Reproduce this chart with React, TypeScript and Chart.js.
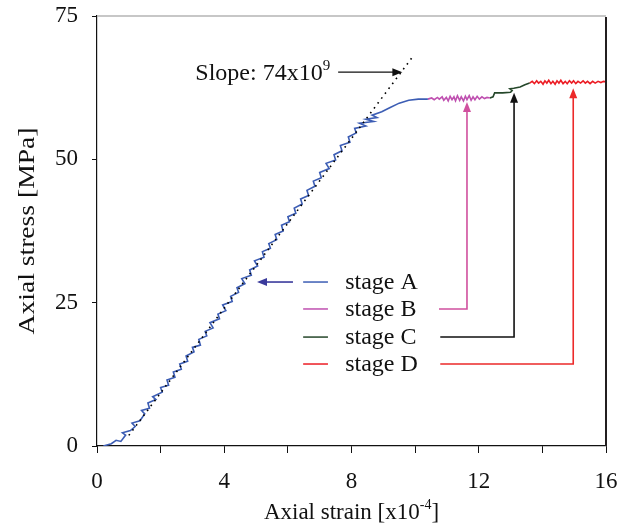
import React, { useEffect, useRef } from 'react';
import { Chart, registerables } from 'chart.js';
Chart.register(...registerables);

// ---- data ----
const xTickLabels = [0, 4, 8, 12, 16];
const yTickLabels = [0, 25, 50, 75];
const stageNames = ['stage A', 'stage B', 'stage C', 'stage D'];

const stageA: [number, number][] = [
  [0.2, 0], [0.45, 0.4], [0.6, 1.0], [0.75, 0.8], [0.9, 1.9], [0.8, 2.3], [1.05, 2.7], [1.2, 3.4],
  [1.1, 4.0], [1.35, 4.4], [1.5, 5.6], [1.4, 6.2], [1.65, 6.6], [1.6, 7.5], [1.85, 8.1], [1.75, 8.6],
  [2.05, 9.4], [2.0, 10.2], [2.25, 10.6], [2.2, 11.5], [2.45, 12.0], [2.4, 12.9], [2.65, 13.4], [2.6, 14.3],
  [2.85, 14.8], [2.8, 15.7], [3.05, 16.4], [3.0, 17.2], [3.25, 17.6], [3.2, 18.6], [3.45, 19.2], [3.4, 20.0],
  [3.65, 20.6], [3.55, 21.5], [3.85, 22.2], [3.8, 23.0], [4.05, 23.6], [3.95, 24.6], [4.25, 25.2], [4.2, 26.1],
  [4.45, 26.8], [4.4, 27.6], [4.65, 28.3], [4.55, 29.2], [4.85, 29.8], [4.8, 30.7], [5.05, 31.4], [4.95, 32.3],
  [5.25, 32.9], [5.2, 33.9], [5.45, 34.5], [5.4, 35.3], [5.65, 36.0], [5.6, 36.9], [5.85, 37.5], [5.8, 38.5],
  [6.05, 39.1], [6.0, 40.0], [6.25, 40.6], [6.2, 41.5], [6.45, 42.2], [6.4, 43.1], [6.65, 43.7], [6.6, 44.6],
  [6.85, 45.3], [6.8, 46.2], [7.05, 46.8], [7.0, 47.7], [7.3, 48.4], [7.2, 49.3], [7.5, 49.9], [7.45, 50.8],
  [7.7, 51.5], [7.65, 52.4], [7.95, 53.0], [7.9, 53.9], [8.15, 54.6], [8.1, 55.4], [8.45, 55.8], [8.25, 56.3],
  [8.7, 56.6], [8.45, 57.0], [8.8, 57.3], [8.65, 57.7], [8.95, 58.3], [9.2, 59.0], [9.5, 59.8], [9.8, 60.3],
  [10.1, 60.5], [10.4, 60.5],
];
const stageB: [number, number][] = [
  [10.4, 60.5], [10.52, 60.7], [10.6, 60.4], [10.7, 60.8], [10.76, 60.5], [10.85, 60.9], [10.9, 60.3],
  [10.98, 60.8], [11.04, 60.2], [11.1, 61.0], [11.16, 60.4], [11.22, 60.9], [11.27, 60.2], [11.33, 61.1],
  [11.4, 60.3], [11.45, 60.9], [11.52, 60.2], [11.58, 61.0], [11.63, 60.4], [11.7, 61.1], [11.76, 60.3],
  [11.82, 60.9], [11.88, 60.4], [11.95, 61.0], [12.02, 60.5], [12.1, 60.9], [12.18, 60.6], [12.26, 60.8],
  [12.35, 60.7],
];
const stageC: [number, number][] = [
  [12.35, 60.7], [12.45, 60.9], [12.5, 61.6], [12.75, 61.6], [13.0, 61.7], [13.05, 62.0], [12.98, 62.3],
  [13.1, 62.4], [13.3, 62.6], [13.45, 63.0], [13.6, 63.3],
];
const stageD: [number, number][] = [
  [13.6, 63.3], [13.68, 63.6], [13.75, 63.2], [13.82, 63.7], [13.88, 63.3], [13.95, 63.6], [14.02, 63.1],
  [14.08, 63.7], [14.14, 63.3], [14.2, 63.8], [14.27, 63.2], [14.33, 63.6], [14.4, 63.1], [14.46, 63.7],
  [14.52, 63.3], [14.58, 63.8], [14.65, 63.2], [14.72, 63.6], [14.78, 63.2], [14.85, 63.7], [14.92, 63.3],
  [14.98, 63.7], [15.05, 63.2], [15.12, 63.6], [15.2, 63.3], [15.28, 63.7], [15.35, 63.3], [15.42, 63.6],
  [15.5, 63.2], [15.58, 63.6], [15.66, 63.3], [15.75, 63.6], [15.84, 63.4], [15.92, 63.6], [16.0, 63.5],
];
const slopeE = 7.4; // MPa per 1e-4 strain (74 GPa)
const slopeX0 = 0.75;

// ---- styles ----
const FONT = '"Liberation Serif", "Times New Roman", serif';
const colors = ['#3c5db4', '#bf50b0', '#25472a', '#ec1c24'];
const connectorColors = ['#3a3a9c', '#d0509e', '#111111', '#ec2a2a'];

const toPts = (a: [number, number][]) => a.map(([x, y]) => ({ x, y }));

function arrowHead(ctx: CanvasRenderingContext2D, x: number, y: number, dx: number, dy: number, color: string) {
  const len = Math.hypot(dx, dy) || 1;
  const ux = dx / len, uy = dy / len;
  const L = 10, W = 4;
  ctx.fillStyle = color;
  ctx.beginPath();
  ctx.moveTo(x, y);
  ctx.lineTo(x - ux * L - uy * W, y - uy * L + ux * W);
  ctx.lineTo(x - ux * L + uy * W, y - uy * L - ux * W);
  ctx.closePath();
  ctx.fill();
}

function richText(ctx: CanvasRenderingContext2D, parts: { t: string; sup?: boolean }[], x: number, y: number, size: number, align: 'left' | 'center' | 'right') {
  const big = `${size}px ${FONT}`;
  const small = `${Math.round(size * 0.62)}px ${FONT}`;
  let total = 0;
  const widths = parts.map(p => { ctx.font = p.sup ? small : big; const w = ctx.measureText(p.t).width; total += w; return w; });
  let cx = align === 'left' ? x : align === 'center' ? x - total / 2 : x - total;
  ctx.textAlign = 'left';
  ctx.textBaseline = 'alphabetic';
  parts.forEach((p, i) => {
    ctx.font = p.sup ? small : big;
    ctx.fillText(p.t, cx, p.sup ? y - size * 0.42 : y);
    cx += widths[i];
  });
}

const overlay = {
  id: 'overlay',
  afterDatasetsDraw(chart: any) {
    const { ctx, chartArea: ca } = chart;
    const xs = chart.scales.x, ys = chart.scales.y;
    const px = (v: number) => xs.getPixelForValue(v);
    const py = (v: number) => ys.getPixelForValue(v);
    ctx.save();
    // frame
    ctx.lineWidth = 1.5;
    ctx.strokeStyle = '#b4b4b4';
    ctx.beginPath(); ctx.moveTo(ca.left, ca.top); ctx.lineTo(ca.right, ca.top); ctx.stroke();
    ctx.lineWidth = 2;
    ctx.strokeStyle = '#231f20';
    ctx.beginPath(); ctx.moveTo(ca.right, ca.top + 1); ctx.lineTo(ca.right, ca.bottom); ctx.stroke();

    // slope dotted line
    ctx.strokeStyle = '#000';
    ctx.lineWidth = 1.6;
    ctx.setLineDash([1.6, 4.5]);
    ctx.beginPath();
    ctx.moveTo(px(1.0), py(slopeE * (1.0 - slopeX0)));
    ctx.lineTo(px(9.95), py(slopeE * (9.95 - slopeX0)));
    ctx.stroke();
    ctx.setLineDash([]);

    // slope label + arrow
    ctx.fillStyle = '#111';
    richText(ctx, [{ t: 'Slope: 74x10' }, { t: '9', sup: true }], px(7.33), py(65.2) + 8, 24, 'right');
    ctx.strokeStyle = '#111'; ctx.lineWidth = 1.3;
    ctx.beginPath(); ctx.moveTo(px(7.58), py(65.2)); ctx.lineTo(px(9.6) - 8, py(65.2)); ctx.stroke();
    arrowHead(ctx, px(9.6), py(65.2), 1, 0, '#111');

    // legend
    const rows = [28.6, 23.9, 19.0, 14.3];
    rows.forEach((r, i) => {
      ctx.strokeStyle = colors[i]; ctx.lineWidth = 1.5;
      ctx.beginPath(); ctx.moveTo(px(6.48), py(r)); ctx.lineTo(px(7.26), py(r)); ctx.stroke();
      ctx.fillStyle = '#111';
      ctx.font = `24px ${FONT}`;
      ctx.textAlign = 'left'; ctx.textBaseline = 'middle';
      ctx.fillText(stageNames[i], px(7.8), py(r) + 1);
    });

    // connector arrows
    ctx.lineWidth = 1.6;
    ctx.strokeStyle = connectorColors[0];
    ctx.beginPath(); ctx.moveTo(px(6.16), py(rows[0])); ctx.lineTo(px(5.03) + 8, py(rows[0])); ctx.stroke();
    arrowHead(ctx, px(5.03), py(rows[0]), -1, 0, connectorColors[0]);
    const ups: [number, number, number, number][] = [
      [1, 10.75, 11.63, 60.0],
      [2, 10.79, 13.11, 61.6],
      [3, 10.79, 14.97, 62.4],
    ];
    ups.forEach(([i, x0, x1, yTop]) => {
      ctx.strokeStyle = connectorColors[i];
      ctx.beginPath();
      ctx.moveTo(px(x0), py(rows[i]));
      ctx.lineTo(px(x1), py(rows[i]));
      ctx.lineTo(px(x1), py(yTop) + 8);
      ctx.stroke();
      arrowHead(ctx, px(x1), py(yTop), 0, -1, connectorColors[i]);
    });
    ctx.restore();
  },
  afterDraw(chart: any) {
    const { ctx, chartArea: ca } = chart;
    ctx.save();
    ctx.fillStyle = '#111';
    // y title (stretched along its length like the reference)
    ctx.translate(28, (ca.top + ca.bottom) / 2);
    ctx.rotate(-Math.PI / 2);
    ctx.scale(1.2, 1);
    ctx.font = `23px ${FONT}`;
    ctx.textAlign = 'center';
    ctx.textBaseline = 'middle';
    ctx.fillText('Axial stress [MPa]', 0, 0);
    ctx.restore();
    ctx.save();
    ctx.fillStyle = '#111';
    richText(ctx, [{ t: 'Axial strain [x10' }, { t: '-4', sup: true }, { t: ']' }], (ca.left + ca.right) / 2, 519, 23, 'center');
    ctx.restore();
  },
};

export default function App() {
  const ref = useRef<HTMLCanvasElement>(null);
  useEffect(() => {
    document.body.style.margin = '0';
    const mk = (data: [number, number][], i: number) => ({
      label: stageNames[i],
      data: toPts(data),
      showLine: true,
      borderColor: colors[i],
      borderWidth: 1.6,
      pointRadius: 0,
      tension: 0,
      fill: false,
    });
    const chart = new Chart(ref.current as HTMLCanvasElement, {
      type: 'scatter',
      data: { datasets: [mk(stageA, 0), mk(stageB, 1), mk(stageC, 2), mk(stageD, 3)] },
      options: {
        animation: false,
        responsive: false,
        layout: { padding: { top: 16, right: 18, left: 0, bottom: 0 } },
        plugins: { legend: { display: false }, tooltip: { enabled: false } },
        scales: {
          x: {
            type: 'linear', min: 0, max: 16,
            afterFit: (s: any) => { s.height = 79; s.paddingLeft = 0; s.paddingRight = 0; },
            ticks: {
              stepSize: 2, autoSkip: false, maxRotation: 0, padding: 15,
              color: '#111', font: { family: FONT, size: 23 },
              callback: (v: any) => (xTickLabels.includes(Number(v)) ? String(v) : ''),
            },
            grid: { drawOnChartArea: false, drawTicks: true, tickLength: 7, color: '#111', tickWidth: 1 },
            border: { color: '#111', width: 1.2 },
          },
          y: {
            type: 'linear', min: 0, max: 75,
            afterFit: (s: any) => { s.width = 97; s.paddingTop = 0; s.paddingBottom = 0; },
            ticks: {
              stepSize: 25, padding: 14,
              color: '#111', font: { family: FONT, size: 23 },
              callback: (v: any) => (yTickLabels.includes(Number(v)) ? String(v) : ''),
            },
            grid: { drawOnChartArea: false, drawTicks: true, tickLength: 5, color: '#111', tickWidth: 1 },
            border: { color: '#111', width: 1.2 },
          },
        },
      },
      plugins: [overlay],
    });
    return () => chart.destroy();
  }, []);
  return (
    <div style={{ position: 'fixed', left: 0, top: 0, width: 624, height: 525, background: '#fff' }}>
      <canvas ref={ref} width={624} height={525} />
    </div>
  );
}
